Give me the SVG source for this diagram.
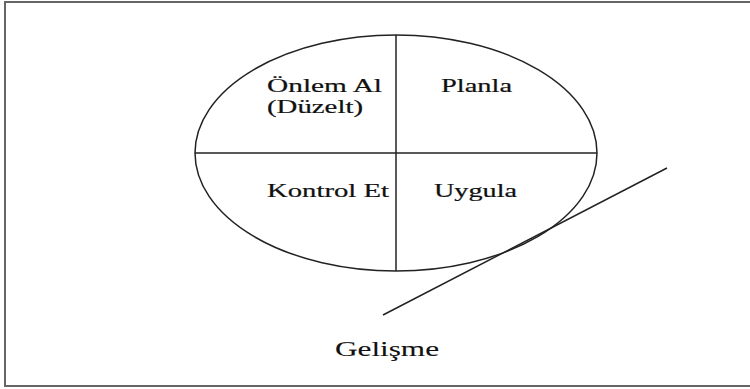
<svg xmlns="http://www.w3.org/2000/svg" width="750" height="389" viewBox="0 0 750 389">
<style>
.ln{stroke:#222;stroke-width:1.5;fill:none}
.t{font-family:"Liberation Serif","Times New Roman",serif;font-size:18px;fill:#111;stroke:#111;stroke-width:0.2}
</style>
<rect x="0" y="0" width="750" height="389" fill="#fff"/>
<rect id="frame" x="5" y="2" width="760" height="384" fill="none" stroke="#666" stroke-width="2"/>
<g id="cycle">
<ellipse class="ln" cx="396" cy="153" rx="201" ry="118"/>
</g>
<g id="connectors">
<line class="ln" x1="396" y1="35" x2="396" y2="271"/>
<line class="ln" x1="195" y1="153" x2="597" y2="153"/>
<line class="ln" x1="383" y1="315" x2="667" y2="168"/>
</g>
<g id="onlem"><text class="t" x="267" y="92" textLength="115" lengthAdjust="spacingAndGlyphs">Önlem Al</text><text class="t" x="267" y="113" textLength="96" lengthAdjust="spacingAndGlyphs">(Düzelt)</text></g>
<g id="planla"><text class="t" x="441" y="92" textLength="71" lengthAdjust="spacingAndGlyphs">Planla</text></g>
<g id="kontrol"><text class="t" x="267" y="197" textLength="122" lengthAdjust="spacingAndGlyphs">Kontrol Et</text></g>
<g id="uygula"><text class="t" x="434" y="197" textLength="83" lengthAdjust="spacingAndGlyphs">Uygula</text></g>
<g id="gelisme"><text class="t" x="335" y="356" style="font-size:20px;stroke-width:0.1" textLength="104" lengthAdjust="spacingAndGlyphs">Gelişme</text></g>
</svg>
